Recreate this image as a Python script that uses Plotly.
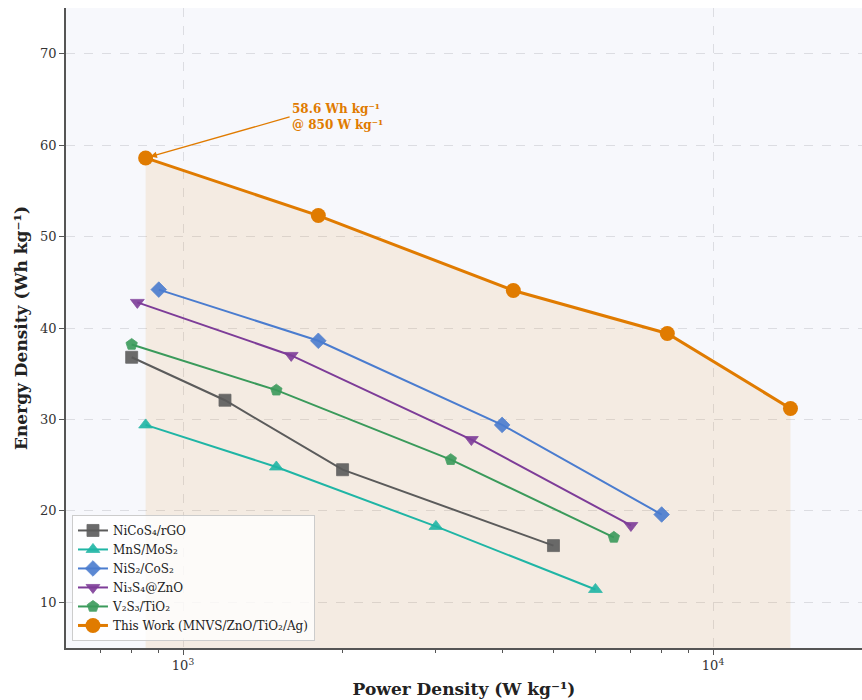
import plotly.graph_objects as go

# Power density (W/kg) and energy density (Wh/kg) for each electrode system
this_work_power = [850, 1800, 4200, 8200, 14000]
this_work_energy = [58.6, 52.3, 44.1, 39.4, 31.2]

nicos_power = [800, 1200, 2000, 5000]
nicos_energy = [36.8, 32.1, 24.5, 16.2]

mns_power = [850, 1500, 3000, 6000]
mns_energy = [29.4, 24.8, 18.3, 11.4]

nis2_power = [900, 1800, 4000, 8000]
nis2_energy = [44.2, 38.6, 29.4, 19.6]

ni3s4_power = [820, 1600, 3500, 7000]
ni3s4_energy = [42.8, 37.0, 27.8, 18.4]

v2s3_power = [800, 1500, 3200, 6500]
v2s3_energy = [38.2, 33.2, 25.6, 17.1]

x_tick_vals = [1000, 10000]
x_tick_text = ["10<sup>3</sup>", "10<sup>4</sup>"]
x_minor_vals = [700, 800, 900, 2000, 3000, 4000, 5000, 6000, 7000, 8000, 9000]
y_tick_vals = [10, 20, 30, 40, 50, 60, 70]

SERIF = "DejaVu Serif"
ORANGE = "#E07B00"

references = [
    ("NiCoS₄/rGO", nicos_power, nicos_energy, "#5B5B5B", "square"),
    ("MnS/MoS₂", mns_power, mns_energy, "#1FB5A5", "triangle-up"),
    ("NiS₂/CoS₂", nis2_power, nis2_energy, "#4A7CCF", "diamond"),
    ("Ni₃S₄@ZnO", ni3s4_power, ni3s4_energy, "#7D3C98", "triangle-down"),
    ("V₂S₃/TiO₂", v2s3_power, v2s3_energy, "#3A9A5B", "pentagon"),
]

fig = go.Figure()

# Shaded region under this work's curve
fig.add_trace(go.Scatter(
    x=this_work_power, y=this_work_energy, mode="none",
    fill="tozeroy", fillcolor="rgba(224,123,0,0.10)",
    showlegend=False, hoverinfo="skip",
))

for name, px, ey, color, symbol in references:
    fig.add_trace(go.Scatter(
        x=px, y=ey, name=name, mode="lines+markers",
        line=dict(color=color, width=2),
        marker=dict(symbol=symbol, size=12, color=color, opacity=0.9,
                    line=dict(width=0.8, color=color)),
    ))

fig.add_trace(go.Scatter(
    x=this_work_power, y=this_work_energy,
    name="This Work (MNVS/ZnO/TiO₂/Ag)", mode="lines+markers",
    line=dict(color=ORANGE, width=3),
    marker=dict(symbol="circle", size=15, color=ORANGE),
))

# Callout for the peak energy density
fig.add_annotation(
    x=3 - 0.0706, y=this_work_energy[0], xref="x", yref="y",
    text=f"<b>{this_work_energy[0]} Wh kg⁻¹<br>@ {this_work_power[0]} W kg⁻¹</b>",
    font=dict(family=SERIF, size=12, color=ORANGE),
    align="left", xanchor="left", yanchor="middle",
    showarrow=True, arrowhead=2, arrowsize=1, arrowwidth=1.3,
    arrowcolor=ORANGE, standoff=5, ax=144, ay=-41,
)

# Chart title
fig.add_annotation(
    x=0.47, y=1, xref="paper", yref="paper",
    xanchor="center", yanchor="bottom", yshift=8,
    text="<b>Ragone Plot: High Energy vs. Power Density Comparison</b>",
    font=dict(family=SERIF, size=18, color="#1F3A68"),
    showarrow=False,
)

fig.update_layout(
    width=862, height=700,
    margin=dict(l=66, r=0, t=8, b=52),
    paper_bgcolor="white",
    plot_bgcolor="#F7F8FC",
    font=dict(family=SERIF, size=13, color="#333333"),
    showlegend=True,
    legend=dict(
        x=0.0075, y=0.011, xanchor="left", yanchor="bottom",
        bgcolor="rgba(255,255,255,0.8)", bordercolor="#CCCCCC", borderwidth=1,
        font=dict(family=SERIF, size=12, color="#222222"),
        tracegroupgap=0, itemwidth=30,
    ),
)

fig.update_xaxes(
    type="log", range=[2.7792, 4.2811],
    tickvals=x_tick_vals, ticktext=x_tick_text,
    ticks="outside", ticklen=5, tickcolor="#555555",
    tickfont=dict(family=SERIF, size=13, color="#333333"),
    showgrid=True, gridcolor="#DCDDE2", griddash="dash", gridwidth=1,
    showline=True, linecolor="#555555", linewidth=1.5,
    minor=dict(tickvals=x_minor_vals, ticks="outside", ticklen=3,
               tickcolor="#555555", showgrid=False),
    zeroline=False,
    title=dict(text="<b>Power Density (W kg⁻¹)</b>",
               font=dict(family=SERIF, size=17, color="#222222"), standoff=11),
)

fig.update_yaxes(
    range=[5, 75], tickvals=y_tick_vals,
    ticks="outside", ticklen=5, tickcolor="#555555",
    tickfont=dict(family=SERIF, size=13, color="#333333"),
    showgrid=True, gridcolor="#DCDDE2", griddash="dash", gridwidth=1,
    showline=True, linecolor="#555555", linewidth=1.5,
    zeroline=False,
    title=dict(text="<b>Energy Density (Wh kg⁻¹)</b>",
               font=dict(family=SERIF, size=17, color="#222222"), standoff=8),
)

fig.write_html("out.html")
